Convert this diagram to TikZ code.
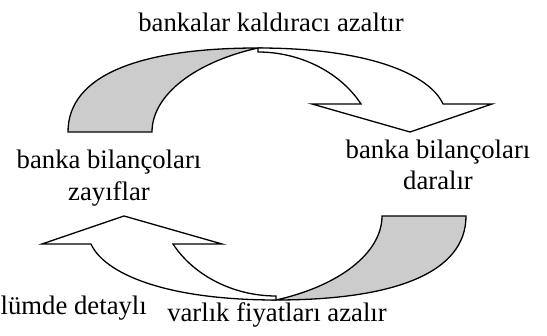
\documentclass[tikz,border=0pt]{standalone}
\usepackage{fontspec}
\setmainfont{Liberation Serif}
\begin{document}
\begin{tikzpicture}[x=1pt,y=-1pt,
  band/.style={draw=black,line width=1.3pt,line join=miter},
  backband/.style={band,fill=black!20},
  frontband/.style={band,fill=white},
  lbl/.style={inner sep=0pt,align=center,font=\fontsize{26.7}{31.5}\selectfont}]
\useasboundingbox (0,0) rectangle (547,336);
% top curved arrow
\begin{scope}
  \draw[backband] (68,132) .. controls (68,75) and (140,48) .. (258,48)
     .. controls (195,62) and (152,95) .. (152,132) -- cycle;
  \draw[frontband] (258,48) .. controls (370,48) and (430,75) .. (443,104)
     -- (492,104) -- (410,132) -- (312,104) -- (361,104)
     .. controls (340,72) and (300,52) .. (258,52) -- cycle;
\end{scope}
% bottom curved arrow (point symmetric)
\begin{scope}[rotate around={180:(267,174)}]
  \draw[backband] (68,132) .. controls (68,75) and (140,48) .. (258,48)
     .. controls (195,62) and (152,95) .. (152,132) -- cycle;
  \draw[frontband] (258,48) .. controls (370,48) and (430,75) .. (443,104)
     -- (492,104) -- (410,132) -- (312,104) -- (361,104)
     .. controls (340,72) and (300,52) .. (258,52) -- cycle;
\end{scope}
\node[lbl,anchor=base] (top) at (271,32) {bankalar kaldıracı azaltır};
\node[lbl] (right) at (438,165) {banka bilançoları\\daralır};
\node[lbl] (left) at (109,178) {banka bilançoları\\zayıflar};
\node[lbl,anchor=base] (bottom) at (277,322) {varlık fiyatları azalır};
\node[lbl,anchor=base west] (cut) at (0.5,315) {lümde detaylı};
\end{tikzpicture}
\end{document}
